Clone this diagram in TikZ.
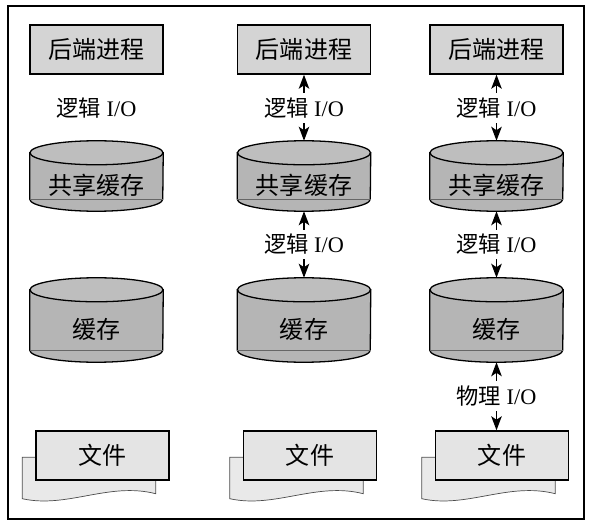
\documentclass[tikz,border=0pt]{standalone}
\usepackage{fontspec}
\setmainfont{Liberation Serif}
\newfontfamily\cjk{Noto Sans CJK SC}
\usetikzlibrary{arrows.meta}
\usetikzlibrary{calc}
\usetikzlibrary{backgrounds}

\definecolor{boxgray}{HTML}{D4D4D4}
\definecolor{drumgray}{HTML}{B5B5B5}
\definecolor{lidgray}{HTML}{BEBEBE}
\definecolor{filegray}{HTML}{E4E4E4}
\definecolor{pagegray}{HTML}{E9E9E9}

\tikzset{
  proc/.style={draw, line width=1.2pt, fill=boxgray, minimum width=3.99cm, minimum height=1.47cm,
    font=\cjk\fontsize{20.5}{24}\selectfont},
  doc/.style={proc, fill=filegray},
  drum/.style={minimum width=3.99cm, inner sep=0pt, font=\cjk\fontsize{20.5}{24}\selectfont},
  drumbody/.style={fill=drumgray, draw, line width=1.1pt},
  drumlid/.style={fill=lidgray, draw, line width=1.1pt},
  page/.style={fill=pagegray, draw=black!70, line width=0.6pt},
  iolabel/.style={fill=white, inner xsep=1pt, inner ysep=4pt, font=\fontsize{19}{22}\selectfont},
  iotip/.tip={Stealth[length=12pt, width=9pt, inset=3pt]},
  io/.style={iotip-iotip, line width=1.2pt}
}

\begin{document}
\begin{tikzpicture}[x=0.03cm, y=0.03cm]

\useasboundingbox (0,0) rectangle (593,526);
\draw[line width=1.2pt] (8,7) rectangle (584,520);

% First, the nodes of the three columns
\foreach \x [count=\i] in {96.5,304,496.5}
  \node[proc] (b\i) at (\x,476.5) {后端进程};
\foreach \x [count=\i] in {96.5,304,496.5}
  \node[drum, minimum height=2.1cm, text height=1.62cm, text depth=0.48cm] (s\i) at (\x,350) {共享缓存};
\foreach \x [count=\i] in {96.5,304,496.5}
  \node[drum, minimum height=2.52cm, text height=1.8cm, text depth=0.72cm] (k\i) at (\x,206) {缓存};
\foreach \x [count=\i] in {102.5,310,502}
  \node[doc] (f\i) at (\x,70.5) {文件};

% Drums and the pages behind the files go under the text
\begin{scope}[on background layer]
  \foreach \d in {s1,s2,s3,k1,k2,k3} {
    \path[drumbody] ($(\d.north west)+(0,-12)$) -- ($(\d.south west)+(0,12)$)
      arc[start angle=180, end angle=360, x radius=66.5, y radius=12]
      -- ($(\d.north east)+(0,-12)$) -- cycle;
    \draw[black!60, line width=0.5pt] ($(\d.south west)+(0,12)$) -- ($(\d.south east)+(0,12)$);
    \path[drumlid] ($(\d.north)+(0,-12)$) ellipse[x radius=66.5, y radius=12];
  }
  \foreach \i in {1,2,3} {
    \path[page] ($(f\i.north west)+(-13,-27)$) -- ($(f\i.south west)+(-13,-18)$)
      .. controls +(45,-10) and +(-47,12) .. ($(f\i.south east)+(-14,-13)$)
      -- ($(f\i.north east)+(-14,-27)$) -- cycle;
  }
\end{scope}

% Left column: only a label
\node[iolabel] (l1) at ($(b1.south)!0.5!(s1.north)$) {{\cjk 逻辑} I/O};

% Middle column
\draw[io] (b2.south) -- node[iolabel] (l2) {{\cjk 逻辑} I/O} (s2.north);
\draw[io] (s2.south) -- node[iolabel] (m2) {{\cjk 逻辑} I/O} (k2.north);

% Right column
\draw[io] (b3.south) -- node[iolabel] (l3) {{\cjk 逻辑} I/O} (s3.north);
\draw[io] (s3.south) -- node[iolabel] (m3) {{\cjk 逻辑} I/O} (k3.north);
\draw[io] (k3.south) -- node[iolabel] (p3) {{\cjk 物理} I/O} (k3.south |- f3.north);

\end{tikzpicture}
\end{document}
